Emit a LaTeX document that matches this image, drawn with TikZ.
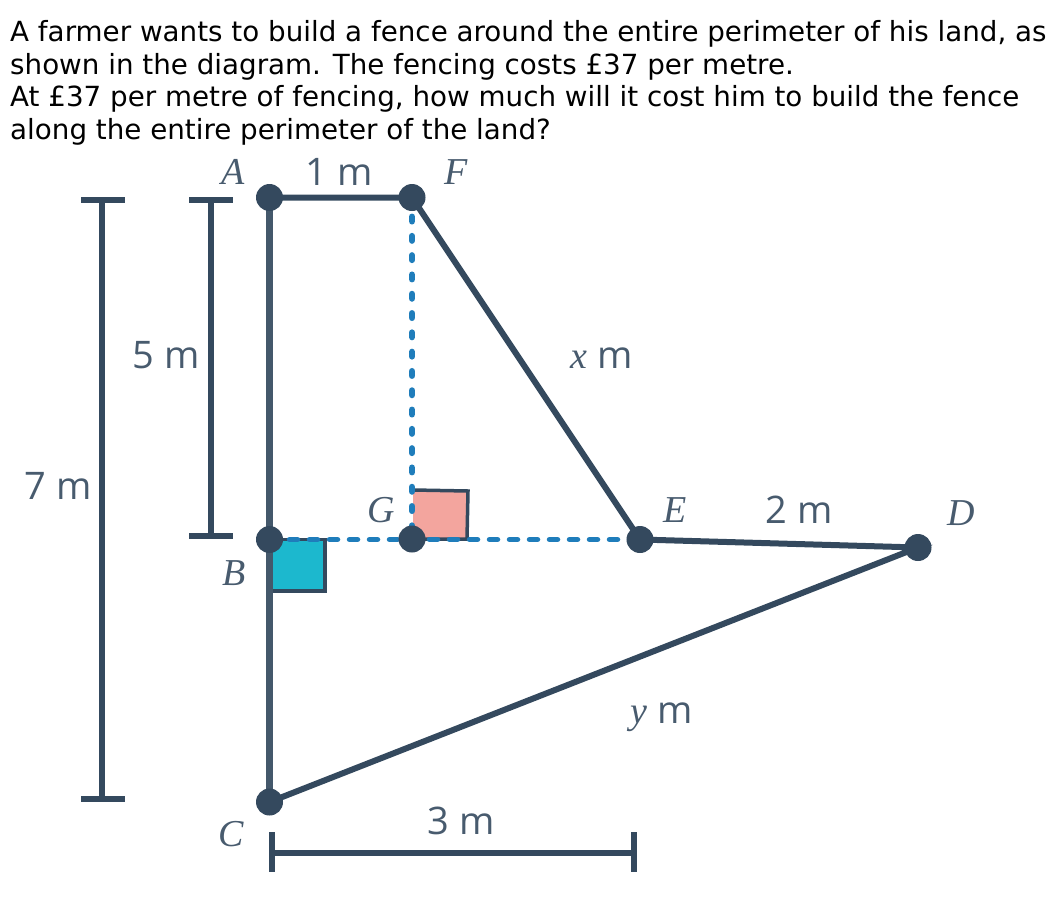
\documentclass[tikz,border=0pt]{standalone}
\usepackage{fontspec}
\newfontfamily\questfont{DejaVu Sans}
\newfontfamily\figfont{Open Sans}
\newfontfamily\pointfont{Liberation Serif}
\usetikzlibrary{calc}
\definecolor{lnink}{HTML}{34495E}
\definecolor{lnblue}{HTML}{1F7DBB}
\definecolor{lnteal}{HTML}{1CB8CE}
\definecolor{lnpink}{HTML}{F3A59E}
\tikzset{
  ln side/.style={draw=lnink, line width=6pt},
  ln wall/.style={draw=lnink!92, line width=6.5pt},
  ln dim/.style={draw=lnink, line width=5.5pt},
  ln dash/.style={draw=lnblue, line width=5.5pt, line cap=round, dash pattern=on 8pt off 12pt},
  ln dots/.style={draw=lnblue, line width=6.5pt, line cap=round, dash pattern=on 4.5pt off 14.8pt},
  ln dot/.style={circle, fill=lnink, inner sep=0pt, minimum size=27pt},
  ln mark/.style={draw=lnink, line width=3.5pt},
  ln text/.style={font=\questfont\fontsize{27.75pt}{30pt}\selectfont, text=black, inner sep=0pt, anchor=base west},
  ln point/.style={font=\pointfont\fontsize{38pt}{42pt}\selectfont\itshape, text=lnink!90, inner sep=0pt},
  ln size/.style={font=\figfont\fontsize{38pt}{40pt}\selectfont, text=lnink!90, inner sep=0pt}
}
\begin{document}
\begin{tikzpicture}[x=1pt, y=-1pt]
  \useasboundingbox (0,0) rectangle (1056,902);
  % question
  \node[ln text] (lineone) at (10,41) {A farmer wants to build a fence around the entire perimeter of his land, as};
  \node[ln text] (linetwo) at (10,74) {shown in the diagram. The fencing costs £37 per metre.};
  \node[ln text] (linethree) at (10,106) {At £37 per metre of fencing, how much will it cost him to build the fence};
  \node[ln text] (linefour) at (10,139) {along the entire perimeter of the land?};
  % corners of the land
  \coordinate (A) at (269.5,197.5);
  \coordinate (F) at (412,197.5);
  \coordinate (B) at (269.5,539.5);
  \coordinate (G) at (412,539);
  \coordinate (E) at (640,539.5);
  \coordinate (D) at (918,547.5);
  \coordinate (C) at (269.5,802);
  % right angle marks
  \draw[ln mark, fill=lnteal] (B) rectangle (325,591);
  \draw[ln mark, fill=lnpink] (413,490) -- (468,491) -- (467,539) -- (413,539);
  % dashed lines
  \draw[ln dots] (F) -- (G);
  \draw[ln dash] (B) -- (E);
  % boundary
  \draw[ln wall] (A) -- (C);
  \draw[ln side] (A) -- (F) -- (E) -- (D) -- (C);
  \foreach \pt in {A,F,B,G,E,D,C}
    \node[ln dot] (dot\pt) at (\pt) {};
  % dimension bars
  \draw[ln dim] (102,200) -- (102,799) (81,200) -- (125,200) (81,799) -- (125,799);
  \draw[ln dim] (211,200) -- (211,536) (189,200) -- (233,200) (189,536) -- (233,536);
  \draw[ln dim] (272,853) -- (634,853) (272,832) -- (272,872) (634,832) -- (634,872);
  % labels
  \node[ln point] (labA) at (233,172) {A};
  \node[ln point] (labF) at (456,172) {F};
  \node[ln point] (labG) at (381,510) {G};
  \node[ln point] (labE) at (675,510) {E};
  \node[ln point] (labD) at (961,513) {D};
  \node[ln point] (labB) at (234,573) {B};
  \node[ln point] (labC) at (231,834) {C};
  \node[ln size] (sizeAF) at (339,172) {1 m};
  \node[ln size] (sizeAB) at (166,355) {5 m};
  \node[ln size] (sizeAC) at (58,486) {7 m};
  \node[ln size] (sizeFE) at (602,358) {{\pointfont\itshape x} m};
  \node[ln size] (sizeED) at (799,510) {2 m};
  \node[ln size] (sizeCD) at (662,717) {{\pointfont\itshape y} m};
  \node[ln size] (sizeBE) at (461,821) {3 m};
\end{tikzpicture}
\end{document}
